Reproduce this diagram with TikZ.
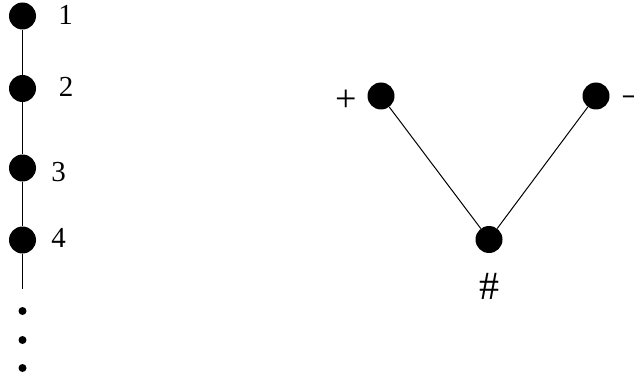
\documentclass[tikz,border=0pt]{standalone}
\usepackage{fontspec}
\setmainfont{Liberation Serif}
\begin{document}
\begin{tikzpicture}[x=1pt,y=-1pt,
  dot/.style={circle,fill=black,draw=none,minimum size=27pt,inner sep=0pt},
  sdot/.style={circle,fill=black,draw=none,minimum size=8pt,inner sep=0pt},
  lab/.style={inner sep=0pt,font=\fontsize{29}{29}\selectfont},
  sym/.style={inner sep=0pt,font=\fontsize{38}{38}\selectfont},
  hash/.style={inner sep=0pt,font=\fontsize{40}{40}\selectfont},
  edge/.style={line width=1pt}]
\useasboundingbox (0,0) rectangle (634,377);
% left chain
\node[dot] (n1) at (22.5,16) {};
\node[dot] (n2) at (22.5,88.5) {};
\node[dot] (n3) at (22.5,168) {};
\node[dot] (n4) at (22.5,240) {};
\coordinate (cend) at (22.5,289);
\draw[edge] (n1) -- (n2) -- (n3) -- (n4) -- (cend);
\node[lab] (l1) at (65.5,14.5) {1};
\node[lab] (l2) at (66,86.5) {2};
\node[lab] (l3) at (58.5,172.5) {3};
\node[lab] (l4) at (58.5,237.5) {4};
\node[sdot] (d1) at (22.5,311) {};
\node[sdot] (d2) at (22.5,340) {};
\node[sdot] (d3) at (22.5,368) {};
% right V
\node[dot] (p) at (381,96) {};
\node[dot] (m) at (596,96) {};
\node[dot] (h) at (489,239.5) {};
\draw[edge] (p) -- (h) -- (m);
\node[sym] (lp) at (346.5,101) {+};
\node[sym,anchor=west] (lm) at (621,103) {\char"2212};
\node[hash] (lh) at (489,286) {\#};
\end{tikzpicture}
\end{document}
